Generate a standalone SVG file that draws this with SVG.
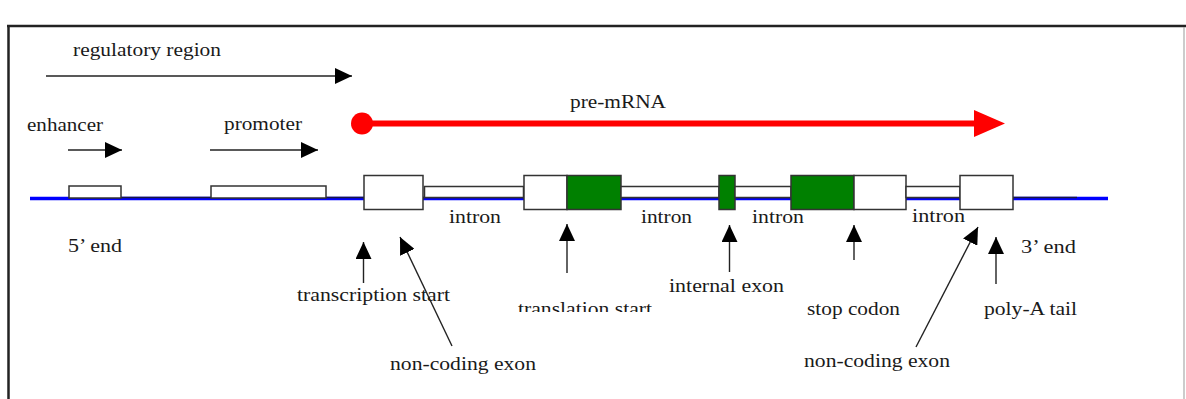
<svg xmlns="http://www.w3.org/2000/svg" width="1186" height="399" viewBox="0 0 1186 399">
<style>
  text { font-family: "Liberation Serif", "Times New Roman", serif; font-size: 18px; fill: #1a1a1a; }
  .box { fill: #ffffff; stroke: #333333; stroke-width: 1.5; }
  .cds { fill: #008000; stroke: #333333; stroke-width: 1.5; }
  .arr { stroke: #222222; stroke-width: 1.4; fill: none; marker-end: url(#ah); }
</style>
<defs>
  <marker id="ah" markerUnits="userSpaceOnUse" markerWidth="18" markerHeight="16" refX="17" refY="8" orient="auto">
    <path d="M0,0 L17,8 L0,16 z" fill="#000000"/>
  </marker>
  <clipPath id="cutTrans"><rect x="500" y="290" width="200" height="22"/></clipPath>
</defs>
<rect x="0" y="0" width="1186" height="399" fill="#ffffff"/>
<g id="frame">
  <line x1="7" y1="26" x2="1186" y2="26" stroke="#222222" stroke-width="2.5"/>
  <line x1="8.5" y1="26" x2="8.5" y2="399" stroke="#222222" stroke-width="2.5"/>
  <line x1="1184" y1="27" x2="1184" y2="399" stroke="#999999" stroke-width="1"/>
</g>
<g id="dna">
  <line x1="30" y1="198.5" x2="1108" y2="198.5" stroke="#0000ff" stroke-width="3.5"/>
  <line x1="69" y1="197.5" x2="1077" y2="197.5" stroke="#1a1a40" stroke-width="1.5"/>
</g>
<g id="enhancer-box"><rect class="box" x="69" y="186" width="52" height="12"/></g>
<g id="promoter-box"><rect class="box" x="211" y="186" width="115" height="12"/></g>
<g id="exon1"><rect class="box" x="364" y="175.5" width="59" height="34"/></g>
<g id="intron1-box"><rect class="box" x="424.5" y="186.5" width="99" height="11"/></g>
<g id="exon2"><rect class="box" x="524" y="175.5" width="43" height="34"/><rect class="cds" x="567" y="175.5" width="54" height="34"/></g>
<g id="intron2-box"><rect class="box" x="621" y="186.5" width="98" height="11"/></g>
<g id="exon3"><rect class="cds" x="719" y="175.5" width="16" height="34"/></g>
<g id="intron3-box"><rect class="box" x="735" y="186.5" width="56" height="11"/></g>
<g id="exon4"><rect class="cds" x="791" y="175.5" width="63" height="34"/><rect class="box" x="854" y="175.5" width="52" height="34"/></g>
<g id="intron4-box"><rect class="box" x="906" y="186.5" width="54" height="11"/></g>
<g id="exon5"><rect class="box" x="960" y="175.5" width="53" height="34"/></g>
<g id="pre-mrna">
  <line x1="362" y1="123.5" x2="976" y2="123.5" stroke="#ff0000" stroke-width="6"/>
  <circle cx="362" cy="123.5" r="11" fill="#ff0000"/>
  <polygon points="974,110 1005,123.5 974,137" fill="#ff0000"/>
  <text x="570" y="108" textLength="96" lengthAdjust="spacingAndGlyphs">pre-mRNA</text>
</g>
<g id="labels">
  <text x="73" y="56" textLength="148" lengthAdjust="spacingAndGlyphs">regulatory region</text>
  <text x="27" y="131" textLength="76" lengthAdjust="spacingAndGlyphs">enhancer</text>
  <text x="224" y="130" textLength="78" lengthAdjust="spacingAndGlyphs">promoter</text>
  <text x="68" y="252" textLength="54" lengthAdjust="spacingAndGlyphs">5’ end</text>
  <text x="1021" y="253" textLength="55" lengthAdjust="spacingAndGlyphs">3’ end</text>
  <text x="449" y="223" textLength="52" lengthAdjust="spacingAndGlyphs">intron</text>
  <text x="641" y="223" textLength="51" lengthAdjust="spacingAndGlyphs">intron</text>
  <text x="752" y="223" textLength="52" lengthAdjust="spacingAndGlyphs">intron</text>
  <text x="912" y="222" textLength="53" lengthAdjust="spacingAndGlyphs">intron</text>
  <text x="297" y="301" textLength="153" lengthAdjust="spacingAndGlyphs">transcription start</text>
  <text x="390" y="370" textLength="146" lengthAdjust="spacingAndGlyphs">non-coding exon</text>
  <text x="518" y="315" textLength="134" lengthAdjust="spacingAndGlyphs" clip-path="url(#cutTrans)">translation start</text>
  <text x="669" y="292" textLength="115" lengthAdjust="spacingAndGlyphs">internal exon</text>
  <text x="807" y="315" textLength="93" lengthAdjust="spacingAndGlyphs">stop codon</text>
  <text x="984" y="315" textLength="93" lengthAdjust="spacingAndGlyphs">poly-A tail</text>
  <text x="804" y="367" textLength="146" lengthAdjust="spacingAndGlyphs">non-coding exon</text>
</g>
<g id="connectors">
  <line class="arr" x1="46" y1="76" x2="352" y2="76"/>
  <line class="arr" x1="68" y1="150" x2="122" y2="150"/>
  <line class="arr" x1="210" y1="150" x2="318" y2="150"/>
  <line class="arr" x1="363.5" y1="283" x2="363.5" y2="242"/>
  <line class="arr" x1="452" y1="346" x2="400" y2="237"/>
  <line class="arr" x1="567" y1="273" x2="567" y2="224"/>
  <line class="arr" x1="729.5" y1="272" x2="729.5" y2="225"/>
  <line class="arr" x1="854" y1="260" x2="854" y2="225"/>
  <line class="arr" x1="916" y1="347" x2="978" y2="227"/>
  <line class="arr" x1="996" y1="284" x2="996" y2="237"/>
</g>
</svg>
